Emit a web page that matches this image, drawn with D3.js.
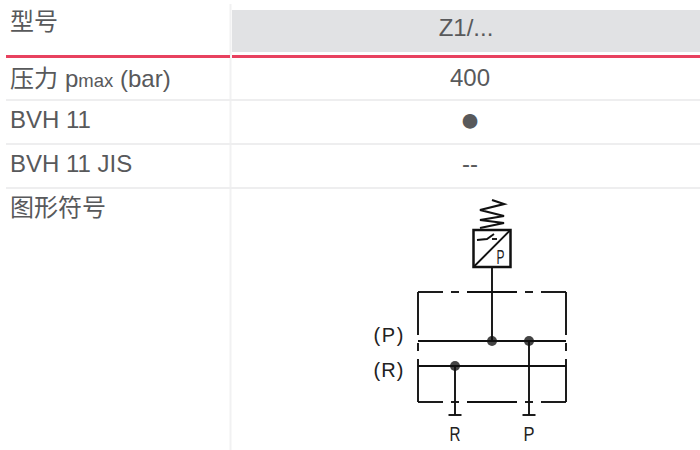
<!DOCTYPE html>
<html>
<head>
<meta charset="utf-8">
<script src="https://cdn.jsdelivr.net/npm/d3@7"></script>
<style>
    html, body { margin: 0; padding: 0; background: #fff; }
    svg { display: block; }
    text { font-family: "Liberation Sans", "Noto Sans CJK SC", sans-serif; fill: #58595b; }
    .cell { font-size: 24px; }
    .sym { font-size: 20px; fill: #222; }
</style>
</head>
<body>
<svg width="700" height="450"></svg>
<script>
    const w = 700, h = 450;

    const rowNames = ["型号", "压力", "BVH 11", "BVH 11 JIS", "图形符号"];
    const rowValues = ["Z1/...", "400", "●", "--", ""];
    const pressureSub = ["p", "max", " (bar)"];

    // symbol drawn in its own grid units, scales below place it on the page
    const housingTop = [[0, 25], [33, 41], [49, 99], [107, 115], [123, 148]];
    const housingWalls = [[-50, -7], [1, 9], [17, 60]];
    const channels = [["P", -1], ["R", 24]];
    const junctions = [[74, -1], [111, -1], [37, 24]];
    const stems = [[37, 24, 73], [111, -1, 73]];
    const feet = [37, 111];
    const spring = [[74, -142], [86, -138], [62, -132], [86, -126], [62, -122], [86, -119], [62, -114]];

    const rowEdges = [0, 56, 100, 144, 188, 450];
    const svg = d3.select("svg");

    const colX = d3.scalePoint().domain(["name", "value"]).range([10, 470]);
    const symX = d3.scaleLinear().domain([0, 148]).range([418, 566]);
    const symY = d3.scaleLinear().domain([0, 100]).range([342, 442]);
    const path = d3.line().x(d => symX(d[0])).y(d => symY(d[1]));

    drawTable();
    drawSymbol();

    function drawTable() {
        svg.append("rect").attr("x", 232).attr("y", 10).attr("width", 468).attr("height", 42).attr("fill", "#e1e2e4");

        svg.append("line").attr("x1", 230.5).attr("x2", 230.5).attr("y1", 4).attr("y2", h)
                .attr("stroke", "#f1f1f2").attr("stroke-width", 2);

        svg.selectAll("line.row")
                .data(rowEdges.slice(2, 5))
                .join("line").attr("class", "row")
                .attr("x1", 6).attr("x2", w)
                .attr("y1", d => d).attr("y2", d => d)
                .attr("stroke", "#eeeeef").attr("stroke-width", 2);

        svg.selectAll("line.rule")
                .data([[6, 230], [232, w]])
                .join("line").attr("class", "rule")
                .attr("x1", d => d[0]).attr("x2", d => d[1])
                .attr("y1", 56.5).attr("y2", 56.5)
                .attr("stroke", "#e8415f").attr("stroke-width", 3);

        const baseline = [30, 87, 128, 172, 216];

        svg.selectAll("text.name")
                .data(rowNames)
                .join("text").attr("class", "cell name")
                .attr("x", colX("name"))
                .attr("y", (d, i) => baseline[i])
                .each(function(d, i) {
                    const t = d3.select(this);
                    t.text(d);
                    if (i == 1) {
                        t.append("tspan").attr("dx", 7).text(pressureSub[0]);
                        t.append("tspan").attr("font-size", 18.5).text(pressureSub[1]);
                        t.append("tspan").text(pressureSub[2]);
                    }
                });

        svg.selectAll("text.value")
                .data(rowValues)
                .join("text").attr("class", "cell value")
                .attr("x", (d, i) => colX("value") - (i == 0 ? 4 : 0))
                .attr("y", (d, i) => [36, 86, 131, 172, 216][i])
                .attr("text-anchor", "middle")
                .style("font-size", (d, i) => i == 2 ? "34px" : null)
                .text(d => d);
    }

    function drawSymbol() {
        svg.selectAll("circle.junction")
                .data(junctions)
                .join("circle").attr("class", "junction")
                .attr("cx", d => symX(d[0]))
                .attr("cy", d => symY(d[1]))
                .attr("r", 5)
                .attr("fill", "#444");

        const g = svg.append("g").attr("fill", "none").attr("stroke", "#111").attr("stroke-width", 1.9);

        // housing, dashed edges top and bottom
        [-50, 60].forEach(y => {
            g.selectAll(null).data(housingTop).join("path")
                    .attr("d", d => path([[d[0], y], [d[1], y]]));
        });
        [0, 148].forEach(x => {
            g.selectAll(null).data(housingWalls).join("path")
                    .attr("d", d => path([[x, d[0]], [x, d[1]]]));
        });

        // switch box with spring
        g.append("rect").attr("x", symX(55.5)).attr("y", symY(-112)).attr("width", 37).attr("height", 37).attr("stroke-width", 2.5);
        g.append("path").attr("d", path([[55.5, -75], [92.5, -112]]));
        g.append("path").attr("d", path(spring)).attr("stroke-width", 2.2);
        g.append("path").attr("d", path([[59, -102], [69, -103], [76, -108]]));
        g.append("path").attr("d", path([[74, -103], [79, -103]]));
        g.append("path").attr("d", path([[74, -75], [74, -1]]));

        g.selectAll(null).data(channels).join("path")
                .attr("d", d => path([[0, d[1]], [148, d[1]]]));
        g.selectAll(null).data(stems).join("path")
                .attr("d", d => path([[d[0], d[1]], [d[0], d[2]]]));
        g.selectAll(null).data(feet).join("path")
                .attr("d", d => path([[d - 6.5, 73], [d + 6.5, 73]]));

        svg.selectAll("text.port")
                .data(channels)
                .join("text").attr("class", "sym port")
                .attr("x", 388.5)
                .attr("y", (d, i) => [342, 377][i])
                .attr("text-anchor", "middle")
                .attr("textLength", 30)
                .attr("lengthAdjust", "spacing")
                .text(d => `(${d[0]})`);

        svg.selectAll("text.foot")
                .data(feet)
                .join("text").attr("class", "sym foot")
                .attr("x", d => symX(d))
                .attr("y", 441)
                .attr("text-anchor", "middle")
                .attr("textLength", 11)
                .attr("lengthAdjust", "spacingAndGlyphs")
                .text((d, i) => channels[1 - i][0]);

        svg.append("text").attr("class", "sym").attr("x", 500.5).attr("y", 264)
                .attr("text-anchor", "middle")
                .attr("textLength", 8)
                .attr("lengthAdjust", "spacingAndGlyphs")
                .text("P");
    }
</script>
</body>
</html>
